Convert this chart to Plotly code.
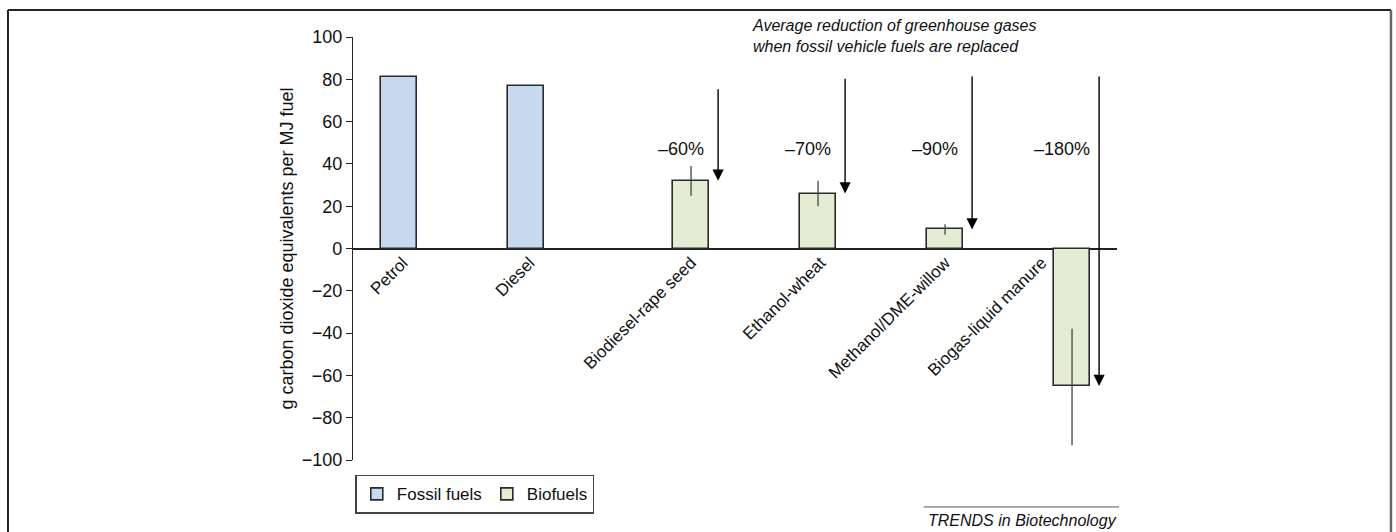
import plotly.graph_objects as go

# Greenhouse-gas emissions per MJ of vehicle fuel
fossil_names = ["Petrol", "Diesel"]
fossil_values = [81, 77]

bio_names = ["Biodiesel-rape seed", "Ethanol-wheat", "Methanol/DME-willow", "Biogas-liquid manure"]
bio_values = [32, 26, 9, -65]
bio_err_plus = [7, 6, 2.5, 27]
bio_err_minus = [7, 6, 2.5, 28]

# average reduction relative to fossil fuels, and the level each arrow starts from
reductions = ["–60%", "–70%", "–90%", "–180%"]
arrow_from = [76, 81, 82, 82]

y_ticks = list(range(-100, 101, 20))

# slot layout along x: fossil pair, a wider gap, then the biofuels
fossil_x = [0, 1]
bio_x = [2.3, 3.3, 4.3, 5.3]
bar_width = 0.29
arrow_dx = 0.213
label_dx = [0.03, 0.03, 0.0, 0.02, 0.0, -0.24]

FONT = "Liberation Sans, Arial, Helvetica, sans-serif"
BLUE = "#c7d9ef"
GREEN = "#e4edd3"
EDGE = "#2a2a2a"

fig = go.Figure()

fig.add_trace(go.Bar(
    x=fossil_x, y=fossil_values, width=bar_width, name="Fossil fuels",
    marker=dict(color=BLUE, line=dict(color=EDGE, width=1.6)),
))
fig.add_trace(go.Bar(
    x=bio_x, y=bio_values, width=bar_width, name="Biofuels",
    marker=dict(color=GREEN, line=dict(color=EDGE, width=1.6)),
    error_y=dict(type="data", symmetric=False, array=bio_err_plus,
                 arrayminus=bio_err_minus, width=0, thickness=1.3, color="#444444"),
))

annotations = []
for xi, yv, y0, txt in zip(bio_x, bio_values, arrow_from, reductions):
    annotations.append(dict(
        x=xi + arrow_dx, y=yv, ax=xi + arrow_dx, ay=y0,
        xref="x", yref="y", axref="x", ayref="y",
        text="", showarrow=True, arrowhead=2, arrowsize=1.6,
        arrowwidth=1.4, arrowcolor="black", standoff=0,
    ))
    annotations.append(dict(
        x=xi, y=47, xref="x", yref="y", xshift=-10, text=txt,
        showarrow=False, font=dict(size=18, color="#111111", family=FONT),
    ))

annotations.append(dict(
    x=0.519, y=1.0024, xref="paper", yref="paper", xanchor="left", yanchor="middle",
    align="left", showarrow=False,
    text="<i>Average reduction of greenhouse gases<br>when fossil vehicle fuels are replaced</i>",
    font=dict(size=16, color="#111111", family=FONT),
))
annotations.append(dict(
    x=1.0026, y=-0.142, xref="paper", yref="paper", xanchor="right", yanchor="middle",
    showarrow=False, text="<i>TRENDS in Biotechnology</i>",
    font=dict(size=16, color="#111111", family=FONT),
))

shapes = [
    # outer frame
    dict(type="line", xref="paper", yref="paper", x0=-0.4516, x1=1.3586, y0=1.0638, y1=1.0638,
         line=dict(color="#222222", width=2)),
    dict(type="line", xref="paper", yref="paper", x0=-0.4516, x1=-0.4516, y0=-0.25, y1=1.0638,
         line=dict(color="#222222", width=2)),
    dict(type="line", xref="paper", yref="paper", x0=1.3586, x1=1.3586, y0=-0.25, y1=1.0638,
         line=dict(color="#666666", width=2.5)),
    # rule above the journal credit
    dict(type="line", xref="paper", yref="paper", x0=0.747, x1=1.0026, y0=-0.111, y1=-0.111,
         line=dict(color="#555555", width=1)),
]

fig.update_layout(
    width=1396, height=532,
    margin=dict(l=353, r=279, t=37, b=72),
    paper_bgcolor="white", plot_bgcolor="white",
    font=dict(family=FONT, color="#111111"),
    showlegend=True,
    legend=dict(orientation="h", x=0.003, y=-0.035, xanchor="left", yanchor="top",
                bordercolor="#444444", borderwidth=1.5, bgcolor="white",
                itemwidth=30, font=dict(size=17, family=FONT)),
    annotations=annotations,
    shapes=shapes,
    bargap=0,
)

fig.update_xaxes(
    range=[-0.362, 5.654], anchor="free", position=0.5,
    showline=False, zeroline=False, showgrid=False, ticks="",
    tickvals=[p + d for p, d in zip(fossil_x + bio_x, label_dx)],
    ticktext=fossil_names + bio_names, tickangle=-45,
    tickfont=dict(size=17, family=FONT, color="#111111"),
)
fig.update_yaxes(
    range=[-100, 100], tickvals=y_ticks, ticks="outside", ticklen=6, tickwidth=1.2,
    tickcolor="#222222", showline=True, linecolor="#222222", linewidth=1.2,
    zeroline=True, zerolinecolor="#222222", zerolinewidth=1.5, showgrid=False,
    tickfont=dict(size=18, family=FONT, color="#111111"),
    title=dict(text="g carbon dioxide equivalents per MJ fuel",
               font=dict(size=18, family=FONT, color="#111111"), standoff=3),
)

fig.write_html("out.html")
